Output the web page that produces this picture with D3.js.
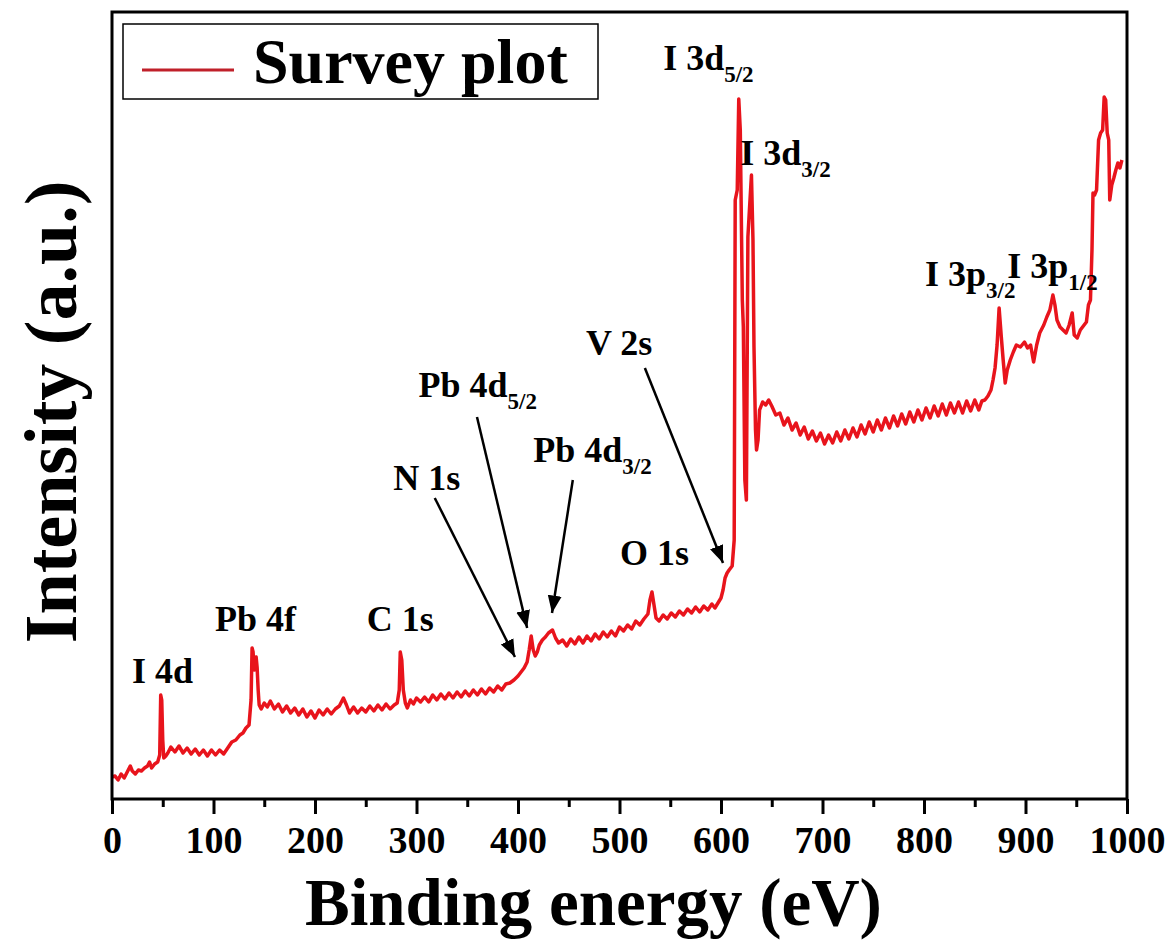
<!DOCTYPE html>
<html>
<head>
<meta charset="utf-8">
<script src="https://cdn.jsdelivr.net/npm/d3@7"></script>
<style>
  body { margin: 0; background: #fff; }
  svg { display: block; }
  text { font-family: "Liberation Serif", "Times New Roman", serif; font-weight: bold; fill: #000; }
</style>
</head>
<body>
<svg id="chart" width="1174" height="942"></svg>
<script>
// survey spectrum, binding energy (eV) vs intensity (a.u.)
const energy = [0,3,6,9,12,15,18,20,23,26,29,32,35,37,39,42,45,47,48,49,50,51,53,55,58,62,66,70,74,78,82,86,90,94,98,102,106,110,114,118,122,126,129,132,135,137,138,139,140,141,142,143,144,145,147,150,153,156,160,164,168,172,176,180,184,188,192,196,200,204,208,212,216,220,224,228,231,234,238,242,246,250,254,258,262,266,270,274,278,281,283,284,285.5,287,289,291,294,297,300,304,308,312,316,320,324,328,332,336,340,344,348,352,356,360,364,368,372,376,380,384,388,392,396,400,403,406,409,411,413,415,417,419,421,424,427,430,434,437,440,444,448,452,456,460,464,468,472,476,480,484,488,492,496,500,504,508,512,516,520,524,528,530,532,534,536,539,543,547,551,555,559,563,567,571,575,579,583,587,591,594,597,600,602,604,606,608,611,613,614,616,617.5,619,621,622,623.5,625,626.5,628,630,631.5,632.5,634,635,636.5,638,641,644,647,650,654,658,662,666,670,674,678,682,686,690,694,698,702,706,710,714,718,722,726,730,734,738,742,746,750,754,758,762,766,770,774,778,782,786,790,794,798,802,806,810,814,818,822,826,830,834,838,842,846,850,854,857,860,863,866,868,870,872,874,876,878,880,882,885,888,891,895,899,902,905,908,911,914,918,921,924,927,929,931,934,937,940,943,946,948,951,954,957,960,962,964,965.5,966.5,968,970,972,974,976,977.5,979,980.5,982,983,985,987,989,991,993,995];
const intensity = [22,23,19,25,21,27,33,28,25,29,28,31,33,37,31,35,37,44,104,99,59,41,43,46,52,47,53,46,51,45,50,44,49,43,49,44,49,45,51,57,59,64,66,71,74,99,151,147,129,139,142,131,109,94,90,96,92,98,90,95,87,93,86,91,84,90,82,88,81,89,84,90,85,90,93,101,94,86,92,86,91,87,93,88,94,89,95,90,94,96,109,147,139,109,96,91,99,95,101,97,102,97,104,99,105,100,106,101,107,102,108,103,109,104,110,105,111,107,113,109,115,116,119,123,127,131,137,149,163,149,143,147,154,159,162,166,169,161,156,159,153,160,155,162,156,163,158,165,160,167,162,168,163,172,168,174,170,178,174,180,185,199,207,194,181,178,184,180,186,182,188,184,190,186,192,187,193,189,195,191,196,201,209,221,226,229,233,259,599,609,700,669,499,472,319,299,562,589,624,559,452,369,349,359,389,397,394,399,393,384,386,374,381,369,376,364,372,360,368,358,366,355,364,356,367,358,369,360,371,362,374,365,377,367,379,369,381,371,383,373,385,375,387,377,389,379,391,381,393,383,395,384,396,386,397,386,398,388,399,389,398,399,403,409,419,431,454,491,464,439,416,429,439,447,454,452,457,451,454,437,454,466,474,482,489,504,494,479,472,469,466,474,486,464,461,469,473,477,494,499,549,606,604,609,659,666,669,702,699,666,659,599,614,621,629,636,631,639];

const xTicks = [0,100,200,300,400,500,600,700,800,900,1000];
const xMinorTicks = [50,150,250,350,450,550,650,750,850,950];

// peak labels: main text, subscript, anchor (eV, intensity)
const peakNames = ["I 4d","Pb 4f","C 1s","N 1s","Pb 4d","Pb 4d","O 1s","V 2s","I 3d","I 3d","I 3p","I 3p"];
const peakSubs  = ["","","","","5/2","3/2","","","5/2","3/2","3/2","1/2"];
const peakE     = [19.7,101.5,251,277,302,415,500.5,467,543,619,801,882];
const peakI     = [116,168,168,309,402,337,234,444,729,634,513,521];

// arrows: from (eV, intensity) to (eV, intensity)
const arrowFromE = [318,359.6,454,525];
const arrowFromI = [301,382,319,431];
const arrowToE   = [397,409,433.5,602];
const arrowToI   = [142,171,186,236];

const svg = d3.select("#chart");
const box = { left: 112, top: 12, right: 1127, bottom: 799 };

const x = d3.scaleLinear().domain([0, 1000]).range([box.left, box.right]);
const y = d3.scaleLinear().domain([0, 787]).range([box.bottom, box.top]);

svg.append("defs").append("marker")
    .attr("id", "head")
    .attr("viewBox", "0 0 10 10")
    .attr("refX", 10).attr("refY", 5)
    .attr("markerWidth", 7).attr("markerHeight", 7)
    .attr("markerUnits", "strokeWidth")
    .attr("orient", "auto")
  .append("path")
    .attr("d", "M0,1 L10,5 L0,9 z")
    .attr("fill", "#000");

// minor ticks
svg.append("g")
    .attr("transform", `translate(0,${box.bottom})`)
    .call(d3.axisBottom(x).tickValues(xMinorTicks).tickSize(8).tickFormat(""))
    .call(g => g.select(".domain").remove())
    .call(g => g.selectAll("line").attr("stroke-width", 3));

// major ticks
svg.append("g")
    .attr("transform", `translate(0,${box.bottom})`)
    .call(d3.axisBottom(x).tickValues(xTicks).tickSize(15).tickPadding(12).tickFormat(d3.format("d")))
    .call(g => g.select(".domain").remove())
    .call(g => g.selectAll("line").attr("stroke-width", 3))
    .call(g => g.selectAll("text")
        .attr("font-size", 38)
        .attr("font-family", "Liberation Serif")
        .attr("font-weight", "bold")
        .attr("fill", "#000"));

// spectrum
const line = d3.line()
    .x((d, i) => x(energy[i]))
    .y(d => y(d));

svg.append("path")
    .datum(intensity)
    .attr("fill", "none")
    .attr("stroke", "#e8141c")
    .attr("stroke-width", 3.5)
    .attr("stroke-linejoin", "round")
    .attr("d", line);

// frame
svg.append("rect")
    .attr("x", box.left).attr("y", box.top)
    .attr("width", box.right - box.left)
    .attr("height", box.bottom - box.top)
    .attr("fill", "none")
    .attr("stroke", "#000")
    .attr("stroke-width", 3);

// arrows
arrowFromE.forEach((e, i) => {
    svg.append("line")
        .attr("x1", x(e)).attr("y1", y(arrowFromI[i]))
        .attr("x2", x(arrowToE[i])).attr("y2", y(arrowToI[i]))
        .attr("stroke", "#000")
        .attr("stroke-width", 2.5)
        .attr("marker-end", "url(#head)");
});

// peak labels
peakNames.forEach((name, i) => {
    const t = svg.append("text")
        .attr("x", x(peakE[i]))
        .attr("y", y(peakI[i]))
        .attr("font-size", 36);
    t.append("tspan").text(name);
    if (peakSubs[i]) {
        t.append("tspan")
            .attr("font-size", 23)
            .attr("dy", 12)
            .text(peakSubs[i]);
    }
});

// legend
svg.append("rect")
    .attr("x", 123).attr("y", 24)
    .attr("width", 475).attr("height", 75)
    .attr("fill", "#fff")
    .attr("stroke", "#000")
    .attr("stroke-width", 1.5);
svg.append("line")
    .attr("x1", 142).attr("x2", 234)
    .attr("y1", 70).attr("y2", 70)
    .attr("stroke", "#c0202a")
    .attr("stroke-width", 3);
svg.append("text")
    .attr("x", 253).attr("y", 83)
    .attr("font-size", 64)
    .text("Survey plot");

// axis titles
svg.append("text")
    .attr("x", 305).attr("y", 925)
    .attr("font-size", 67)
    .text("Binding energy (eV)");

svg.append("text")
    .attr("transform", "translate(76,412) rotate(-90)")
    .attr("text-anchor", "middle")
    .attr("font-size", 74)
    .text("Intensity (a.u.)");
</script>
</body>
</html>
